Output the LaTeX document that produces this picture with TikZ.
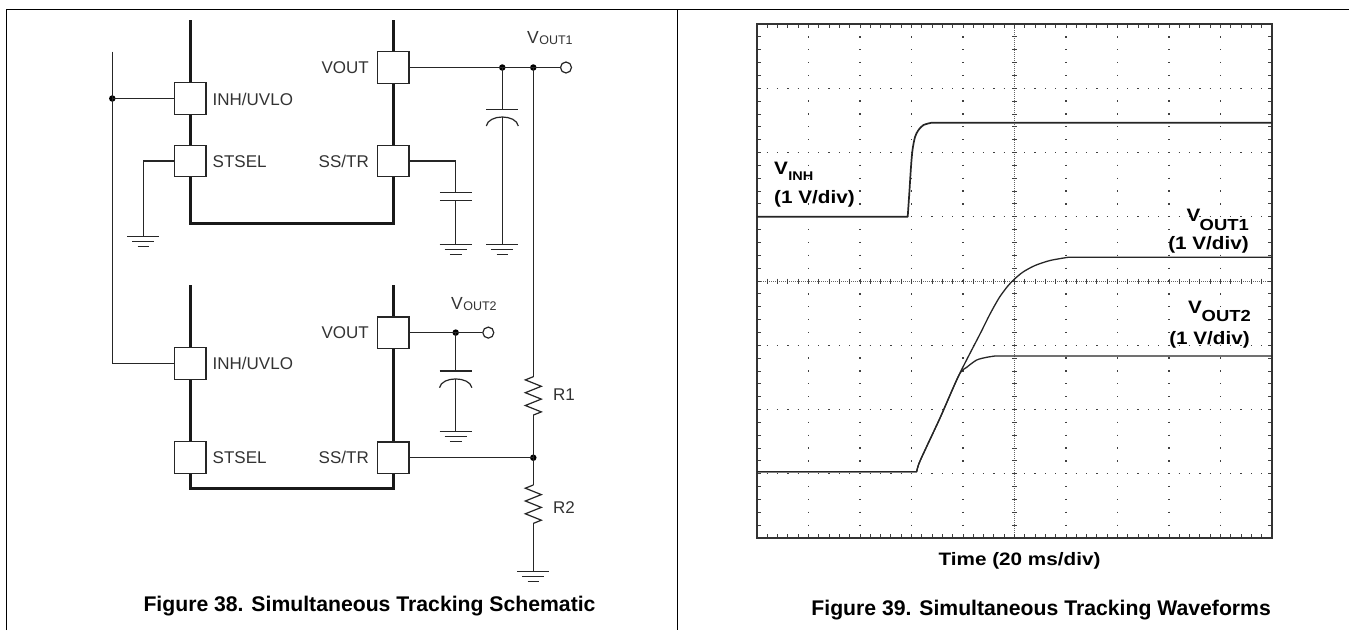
\documentclass[tikz,border=0pt]{standalone}
\usepackage{fontspec}
\setmainfont{Liberation Sans}
\newfontfamily\scopefont[FakeStretch=1.15]{Liberation Sans}
\begin{document}
\begin{tikzpicture}[x=1pt,y=-1pt,
  wire/.style={line width=1.2pt, draw=black!85},
  icline/.style={line width=2.6pt, draw=black!90},
  pinbox/.style={draw=black!85, line width=1.3pt, fill=white, minimum width=31.5pt, minimum height=31.5pt, inner sep=0pt},
  jdot/.style={circle, fill=black, inner sep=0pt, minimum size=6.5pt},
  term/.style={circle, draw=black!85, line width=1.2pt, fill=white, inner sep=0pt, minimum size=11pt},
  lbl/.style={inner sep=0pt, text=black!80, font=\fontsize{17}{20}\selectfont},
  vbig/.style={inner sep=0pt, text=black!80, font=\fontsize{17.5}{20}\selectfont},
  vsub/.style={inner sep=0pt, text=black!80, font=\fontsize{12.5}{14}\selectfont},
  stxt/.style={inner sep=0pt, font=\scopefont\bfseries\fontsize{18}{20}\selectfont},
  ssub/.style={inner sep=0pt, font=\scopefont\bfseries\fontsize{16}{18}\selectfont},
  ssubs/.style={inner sep=0pt, font=\scopefont\bfseries\fontsize{12.6}{14}\selectfont},
  capt/.style={inner sep=0pt, font=\bfseries\fontsize{21.2}{24}\selectfont},
  gdot/.style={draw=black!75, line width=1.3pt},
  trace/.style={draw=black!85, line width=1.3pt, line join=round},
  gnd/.pic={\draw[wire] (-16,0) -- (16,0); \draw[wire] (-11,5) -- (11,5); \draw[wire] (-5.8,10) -- (5.8,10);},
  resist/.pic={\draw[wire, line join=miter] (0,0) -- (-8,3.2) -- (8,9.6) -- (-8,16) -- (8,22.4) -- (-8,28.8) -- (8,35.2) -- (0,38.4);}
]
\useasboundingbox (0,0) rectangle (1349,630);
\fill[white] (0,0) rectangle (1349,630);

% frame
\draw[line width=1.3pt] (6.7,630) -- (6.7,9.3) -- (1349,9.3);
\draw[line width=1.3pt] (677.3,9.3) -- (677.3,630);

% ================= upper IC =================
\coordinate (ic1tl) at (190.2,20);
\coordinate (ic1tr) at (393.2,20);
\coordinate (ic1bl) at (190.2,223.3);
\coordinate (ic1br) at (393.2,223.3);
\coordinate (inh1c) at (190.2,98.5);
\coordinate (st1c) at (190.2,161);
\coordinate (vo1c) at (393.2,67.5);
\coordinate (ss1c) at (393.2,161);
\draw[icline, line join=miter] (ic1tl) -- (ic1bl) -- (ic1br) -- (ic1tr);
\node[pinbox] (inh1) at (inh1c) {};
\node[pinbox] (st1) at (st1c) {};
\node[pinbox] (vo1) at (vo1c) {};
\node[pinbox] (ss1) at (ss1c) {};
\node[lbl, anchor=base west] (linh1) at (212.5,105) {INH/UVLO};
\node[lbl, anchor=base west] (lst1) at (212.5,167.1) {STSEL};
\node[lbl, anchor=base east] (lvo1) at (369,73.6) {VOUT};
\node[lbl, anchor=base east] (lss1) at (369,167.1) {SS/TR};

% ================= lower IC =================
\coordinate (ic2tl) at (190.2,285);
\coordinate (ic2tr) at (393.2,285);
\coordinate (ic2bl) at (190.2,488.3);
\coordinate (ic2br) at (393.2,488.3);
\coordinate (inh2c) at (190.2,363.5);
\coordinate (st2c) at (190.2,457.5);
\coordinate (vo2c) at (393.2,332.6);
\coordinate (ss2c) at (393.2,457.7);
\draw[icline, line join=miter] (ic2tl) -- (ic2bl) -- (ic2br) -- (ic2tr);
\node[pinbox] (inh2) at (inh2c) {};
\node[pinbox] (st2) at (st2c) {};
\node[pinbox] (vo2) at (vo2c) {};
\node[pinbox] (ss2) at (ss2c) {};
\node[lbl, anchor=base west] (linh2) at (212.5,369.6) {INH/UVLO};
\node[lbl, anchor=base west] (lst2) at (212.5,463.6) {STSEL};
\node[lbl, anchor=base east] (lvo2) at (369,338.7) {VOUT};
\node[lbl, anchor=base east] (lss2) at (369,463.8) {SS/TR};

% ================= left bus =================
\coordinate (bustop) at (112.3,51.7);
\node[jdot] (busdot) at (112.3,98.5) {};
\coordinate (buscorner) at (112.3,363.5);
\draw[wire] (bustop) -- (buscorner) -- (inh2.west);
\draw[wire] (busdot.center) -- (inh1.west);

% STSEL ground
\coordinate (stc) at (143.3,161);
\coordinate (g1) at (143.3,236.7);
\draw[wire] (st1.west) -- (stc) -- (g1);
\pic at (g1) {gnd};

% ================= VOUT1 =================
\node[jdot] (d1) at (502.3,67.5) {};
\node[jdot] (d2) at (533.3,67.5) {};
\node[term] (t1) at (566,67.5) {};
\draw[wire] (vo1.east) -- (d1.center) -- (d2.center) -- (t1.west);
\node[vbig, anchor=base west] (vout1v) at (527,43) {V};
\node[vsub, anchor=base west] (vout1s) at (vout1v.base east) {\raisebox{-1.8pt}{OUT1}};

% C1 (output cap 1)
\coordinate (c1a) at (502.3,109.3);
\coordinate (c1b) at (502.3,116.9);
\coordinate (g2) at (502.3,244.3);
\draw[wire] (d1.center) -- (c1a);
\draw[wire] (486.3,109.3) -- (518.3,109.3);
\draw[wire] (486.3,126) .. controls (488.5,114) and (516.1,114) .. (518.3,126);
\draw[wire] (c1b) -- (g2);
\pic at (g2) {gnd};

% C2 (soft-start cap)
\coordinate (c2w) at (455.7,161);
\coordinate (c2a) at (455.7,192.3);
\coordinate (c2b) at (455.7,200.3);
\coordinate (g3) at (455.7,244.3);
\draw[wire] (ss1.east) -- (c2w) -- (c2a);
\draw[wire] (439.9,192.3) -- (471.5,192.3);
\draw[wire] (439.9,200.3) -- (471.5,200.3);
\draw[wire] (c2b) -- (g3);
\pic at (g3) {gnd};

% ================= R1 / R2 =================
\coordinate (r1t) at (533.3,376.7);
\coordinate (r1b) at (533.3,415.1);
\node[jdot] (d3) at (533.3,457.7) {};
\coordinate (r2t) at (533.3,485);
\coordinate (r2b) at (533.3,523.4);
\coordinate (g4) at (533.3,571.7);
\draw[wire] (d2.center) -- (r1t);
\pic at (r1t) {resist};
\draw[wire] (r1b) -- (r2t);
\pic at (r2t) {resist};
\draw[wire] (r2b) -- (g4);
\pic at (g4) {gnd};
\draw[wire] (ss2.east) -- (d3.center);
\node[lbl, anchor=base west] (lr1) at (553,400.5) {R1};
\node[lbl, anchor=base west] (lr2) at (553,513.5) {R2};

% ================= VOUT2 =================
\node[jdot] (d4) at (455.7,332.6) {};
\node[term] (t2) at (488.3,332.6) {};
\draw[wire] (vo2.east) -- (d4.center) -- (t2.west);
\node[vbig, anchor=base west] (vout2v) at (451,309) {V};
\node[vsub, anchor=base west] (vout2s) at (vout2v.base east) {\raisebox{-1.8pt}{OUT2}};
\coordinate (c3a) at (455.7,371);
\coordinate (c3b) at (455.7,379.2);
\coordinate (g5) at (455.7,431.7);
\draw[wire] (d4.center) -- (c3a);
\draw[wire] (439.5,371) -- (471.9,371);
\draw[wire] (439.5,387.7) .. controls (441.7,376) and (469.7,376) .. (471.9,387.7);
\draw[wire] (c3b) -- (g5);
\pic at (g5) {gnd};

\node[capt, anchor=base west] (cap38) at (143.3,611.3) {Figure 38. Simultaneous Tracking Schematic};

% ================= scope =================
% dotted major grid lines
\foreach \k in {1,2,3,5,6,7}
  \draw[gdot, dash pattern=on 1.3pt off 9pt, dash phase=0.65pt] ({757},{24+\k*64.25}) -- ({1272},{24+\k*64.25});
\foreach \k in {1,2,3,4,6,7,8,9}
  \draw[gdot, dash pattern=on 1.3pt off 11.55pt, dash phase=0.65pt] ({757+\k*51.5},{24}) -- ({757+\k*51.5},{538});
% centre lines
\draw[black!60, line width=0.7pt, dash pattern=on 0.8pt off 1.2pt] (1014.5,24) -- (1014.5,538);
\draw[black!60, line width=0.7pt, dash pattern=on 0.8pt off 1.2pt] (757,281) -- (1272,281);
\foreach \k in {1,...,39}
  \draw[black!75, line width=0.9pt] ({1012},{24+\k*12.85}) -- ({1017},{24+\k*12.85});
\foreach \k in {1,...,49}
  \draw[black!75, line width=0.9pt] ({757+\k*10.3},{278.5}) -- ({757+\k*10.3},{283.5});
% border with ticks
\foreach \k in {1,...,49} {
  \draw[black!75, line width=0.9pt] ({757+\k*10.3},{24}) -- ({757+\k*10.3},{27.8});
  \draw[black!75, line width=0.9pt] ({757+\k*10.3},{538}) -- ({757+\k*10.3},{534.2});
}
\foreach \k in {1,...,39} {
  \draw[black!75, line width=0.9pt] ({757},{24+\k*12.85}) -- ({760.8},{24+\k*12.85});
  \draw[black!75, line width=0.9pt] ({1272},{24+\k*12.85}) -- ({1268.2},{24+\k*12.85});
}
\draw[line width=1.4pt, black!80] (757,24) rectangle (1272,538);

% traces
\draw[trace, line width=1.7pt] (757,216.7) -- (907.7,216.7)
  -- plot[smooth, tension=0.5] coordinates {(907.7,216.7) (909.3,193.3) (911,166.7) (912.5,150) (915,137) (918.5,130) (923.5,125) (931.7,122.7)}
  -- (1272,122.7);
\draw[trace] (757,471.7) -- (916.7,471.7)
  -- plot[smooth, tension=0.45] coordinates {(916.7,471.7) (920,461) (940,418) (959,375) (980,334) (990,314) (999,298) (1007,287) (1014,279.5) (1023,272) (1035,265.5) (1050,260.5) (1068,257.3)}
  -- (1272,257.3);
\draw[trace] (757,471.7) -- (916.7,471.7)
  -- plot[smooth, tension=0.45] coordinates {(916.7,471.7) (920,461) (940,418) (959,375) (966.7,367.3) (976.7,360) (986.7,357.3) (995,356)}
  -- (1272,356);

% scope labels
\node[stxt, anchor=base west] (vinhv) at (774,174) {V};
\node[ssubs, anchor=base west] (vinhs) at (vinhv.base east) {\raisebox{-6pt}{INH}};
\node[stxt, anchor=base west] (vinhd) at (774,203.5) {(1 V/div)};

\node[ssub, anchor=base east] (vo1s) at (1249,230) {OUT1};
\node[stxt, anchor=base east] (vo1v) at (1200.5,221.7) {V};
\node[stxt, anchor=base east] (vo1d) at (1249,249.5) {(1 V/div)};

\node[ssub, anchor=base east] (vo2s) at (1251,321.7) {OUT2};
\node[stxt, anchor=base east] (vo2v) at (1202,313.5) {V};
\node[stxt, anchor=base east] (vo2d) at (1250,344.5) {(1 V/div)};

\node[stxt, anchor=base] (timel) at (1019.5,565.5) {Time (20 ms/div)};
\node[capt, anchor=base west] (cap39) at (811.2,615) {Figure 39. Simultaneous Tracking Waveforms};
\end{tikzpicture}
\end{document}
